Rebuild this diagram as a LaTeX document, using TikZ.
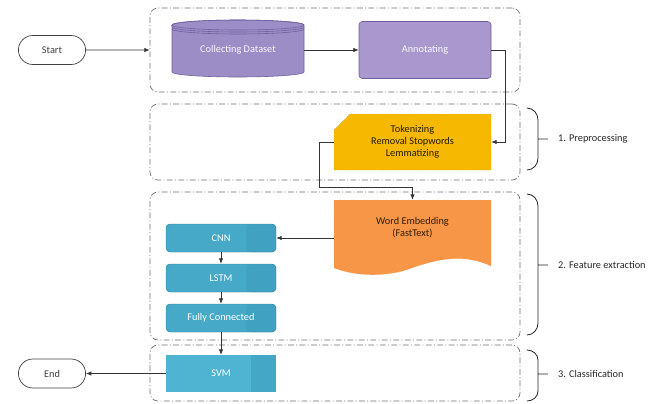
\documentclass[tikz,border=0pt]{standalone}
\usepackage{fontspec}
\setmainfont{Carlito}
\usetikzlibrary{arrows.meta,positioning,shapes.misc}
\definecolor{grpline}{HTML}{6E6E6E}
\definecolor{dbfill}{HTML}{9D8DC6}
\definecolor{dbedge}{HTML}{6F5FA0}
\definecolor{annfill}{HTML}{A898CD}
\definecolor{prepfill}{HTML}{F6B800}
\definecolor{embfill}{HTML}{F79646}
\definecolor{nnteal}{HTML}{45A9C7}
\definecolor{nnband}{HTML}{40A2C0}
\definecolor{nnedge}{HTML}{2C86A2}
\definecolor{svmfill}{HTML}{4EB4D1}
\begin{document}
\begin{tikzpicture}[x=0.3mm,y=-0.3mm,every node/.style={font=\fontsize{8.8}{10.4}\selectfont},
  term/.style={rounded rectangle,draw=black!75,line width=.6pt,minimum width=22.5mm,minimum height=8.7mm,text=black!75},
  group/.style={draw=grpline,line width=.6pt,dash pattern=on 5pt off 2pt on .8pt off 2pt,rounded corners=2.4mm,inner sep=0pt,minimum width=111mm},
  nnbox/.style={rounded corners=1.2mm,fill=nnteal,draw=nnedge,line width=.4pt,minimum width=33mm,minimum height=8.4mm,text=white,
    path picture={\fill[nnband] ([xshift=-9mm]path picture bounding box.north east) rectangle (path picture bounding box.south east);}},
  arr/.style={-{Latex[length=1.6mm,width=1.3mm]},line width=.6pt,draw=black!80},
  brk/.style={line width=.7pt,draw=black!85}]
\useasboundingbox (0,0) rectangle (656,403);
\node[group,minimum height=25.2mm] (grpdata) at (335,50) {};
\node[group,minimum height=22.8mm] (grpprep) at (335,142) {};
\node[group,minimum height=44.4mm] (grpfeat) at (335,266) {};
\node[group,minimum height=16.8mm] (grpclass) at (335,373) {};
\fill[dbfill,draw=dbedge,line width=.5pt] (172,25) -- (172,72) arc[start angle=180,end angle=360,x radius=19.8mm,y radius=1.5mm] -- (304,25) arc[start angle=0,end angle=180,x radius=19.8mm,y radius=1.5mm] -- cycle;
\draw[dbedge,line width=.5pt] (238,25) ellipse[x radius=19.8mm,y radius=1.5mm];
\draw[dbedge,line width=.5pt] (172,27) arc[start angle=180,end angle=360,x radius=19.8mm,y radius=1.5mm];
\draw[dbedge,line width=.5pt] (172,29) arc[start angle=180,end angle=360,x radius=19.8mm,y radius=1.5mm];
\fill[embfill,draw=embfill!80!white,densely dotted,line width=.4pt] (334,200) -- (491,200) -- (491,266) .. controls (465,254) and (440,258) .. (412,268) .. controls (385,278) and (355,276) .. (334,268) -- cycle;
\node[term] (start) at (52,50) {Start};
\node[term] (end) at (52,373.5) {End};
\node[minimum width=39.6mm,minimum height=17.1mm,text=white!92!dbfill] (collect) at (238,50) {Collecting Dataset};
\node[rounded corners=1mm,fill=annfill,draw=dbedge,line width=.5pt,minimum width=39.6mm,minimum height=17.1mm,text=white!92!annfill] (annot) at (425,50) {Annotating};
\node[chamfered rectangle,chamfered rectangle corners=north west,chamfered rectangle xsep=3.7mm,fill=prepfill,draw=prepfill!80!black,densely dotted,line width=.4pt,minimum width=47.1mm,minimum height=16.8mm,align=center,text=black!85!prepfill,inner sep=0pt] (prep) at (412.5,142) {Tokenizing\\Removal Stopwords\\Lemmatizing};
\node[minimum width=47.1mm,minimum height=16.8mm,align=center,text=black!80!embfill] (embed) at (412.5,228) {Word Embedding\\(FastText)};
\node[nnbox] (cnn) at (221,238) {CNN};
\node[nnbox] (lstm) at (221,278) {LSTM};
\node[nnbox] (fc) at (221,318) {Fully Connected};
\node[fill=svmfill,minimum width=33mm,minimum height=11.1mm,text=white,
  path picture={\fill[nnband!70!svmfill] ([xshift=-7.5mm]path picture bounding box.north east) rectangle (path picture bounding box.south east);}] (svm) at (221,373.5) {SVM};
\coordinate (turn) at (412.5,187);
\draw[arr] (start) -- (start -| grpdata.west);
\draw[arr] (collect) -- (annot);
\draw[arr] (annot.east) -- ++(14,0) |- (prep.east);
\draw[arr] (prep.west) -- ++(-14,0) |- (turn) -- (embed.north);
\draw[arr] (embed.west |- cnn) -- (cnn.east);
\draw[arr] (cnn) -- (lstm);
\draw[arr] (lstm) -- (fc);
\draw[arr] (fc) -- (svm);
\draw[arr] (svm) -- (end);
\draw[brk] (527,108) to[out=0,in=90] (538,120) -- (538,158) to[out=-90,in=0] (527,170) (538,139) -- (548,139);
\draw[brk] (527,194) to[out=0,in=90] (538,206) -- (538,323) to[out=-90,in=0] (527,335) (538,265) -- (548,265);
\draw[brk] (527,350) to[out=0,in=90] (538,360) -- (538,391) to[out=-90,in=0] (527,401) (538,374) -- (548,374);
\node[anchor=west,text=black!85] (lblprep) at (554,139) {1. Preprocessing};
\node[anchor=west,text=black!85] (lblfeat) at (554,265) {2. Feature extraction};
\node[anchor=west,text=black!85] (lblclass) at (554,374) {3. Classification};
\end{tikzpicture}
\end{document}
